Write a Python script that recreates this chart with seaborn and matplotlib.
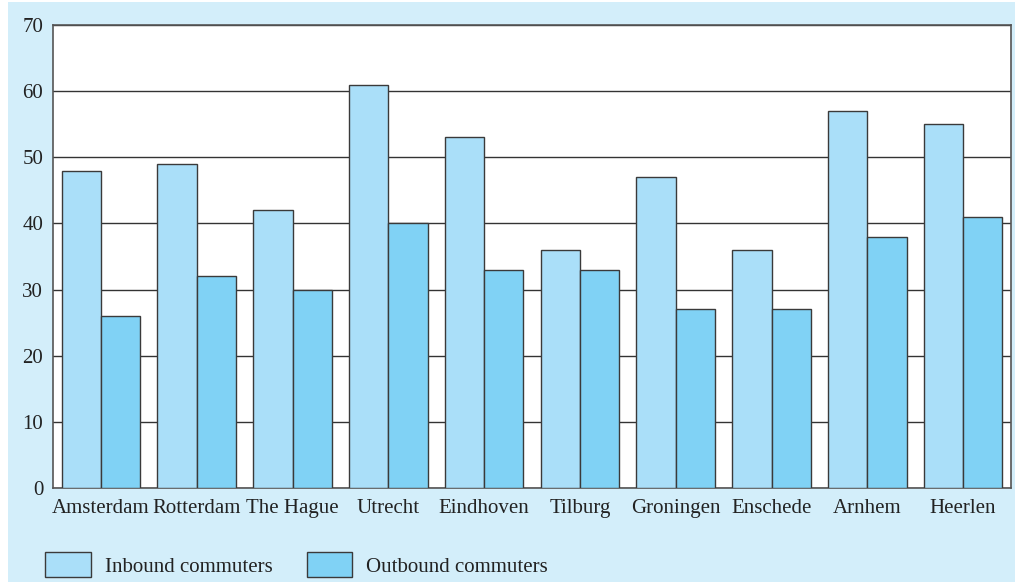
import matplotlib
matplotlib.use("Agg")
import matplotlib.pyplot as plt
from matplotlib.patches import Rectangle
import pandas as pd
import seaborn as sns

# ── Data ─────────────────────────────────────────────────────
cities   = ["Amsterdam", "Rotterdam", "The Hague", "Utrecht", "Eindhoven",
            "Tilburg", "Groningen", "Enschede", "Arnhem", "Heerlen"]
inbound  = [48, 49, 42, 61, 53, 36, 47, 36, 57, 55]
outbound = [26, 32, 30, 40, 33, 33, 27, 27, 38, 41]
series   = ["Inbound commuters", "Outbound commuters"]
yticks   = [0, 10, 20, 30, 40, 50, 60, 70]

df = pd.DataFrame({
    "city":  cities * 2,
    "value": inbound + outbound,
    "type":  [series[0]] * len(cities) + [series[1]] * len(cities),
})

# ── Style ────────────────────────────────────────────────────
sns.set_theme(style="white")
plt.rcParams["font.family"] = ["Liberation Serif", "DejaVu Serif"]
plt.rcParams["text.color"] = "#222222"

BG = "#d3eefa"
EDGE = "#3a3a3a"
colors = ["#aadff9", "#80d2f5"]
FS = 15

fig = plt.figure(figsize=(10.15, 5.82), dpi=100, facecolor=BG)
fig.patches.append(Rectangle((0, 0), 8 / 1015, 1, transform=fig.transFigure,
                             facecolor="white", edgecolor="none", zorder=0))
fig.patches.append(Rectangle((0, 1 - 2 / 582), 1, 2 / 582, transform=fig.transFigure,
                             facecolor="white", edgecolor="none", zorder=0))
ax = fig.add_axes([53 / 1015, 1 - 488 / 582, (1011 - 53) / 1015, (488 - 25) / 582])
ax.set_facecolor("white")

sns.barplot(data=df, x="city", y="value", hue="type", palette=colors,
            saturation=1, width=0.82, edgecolor=EDGE, linewidth=1.0,
            ax=ax, zorder=3)

ax.set_ylim(0, 70)
ax.set_yticks(yticks)
ax.set_xlim(-0.5, len(cities) - 0.5)
ax.yaxis.grid(True, color="#333333", linewidth=1.0, zorder=0)
ax.set_axisbelow(True)
ax.set_xlabel("")
ax.set_ylabel("")
ax.tick_params(axis="both", length=0, labelsize=FS, colors="#222222")
ax.tick_params(axis="x", pad=8)
ax.tick_params(axis="y", pad=7)
for s in ax.spines.values():
    s.set_visible(True)
    s.set_color("#555555")
    s.set_linewidth(1.2)

handles, labels = ax.get_legend_handles_labels()
ax.get_legend().remove()
fig.legend(handles, labels, loc="lower left",
           bbox_to_anchor=(45 / 1015, 5 / 582), ncol=2, frameon=False,
           fontsize=FS, handlelength=2.2, handleheight=1.45,
           handletextpad=0.67, columnspacing=1.63, borderpad=0,
           borderaxespad=0)

fig.savefig("out.png", dpi=100, facecolor=BG)
